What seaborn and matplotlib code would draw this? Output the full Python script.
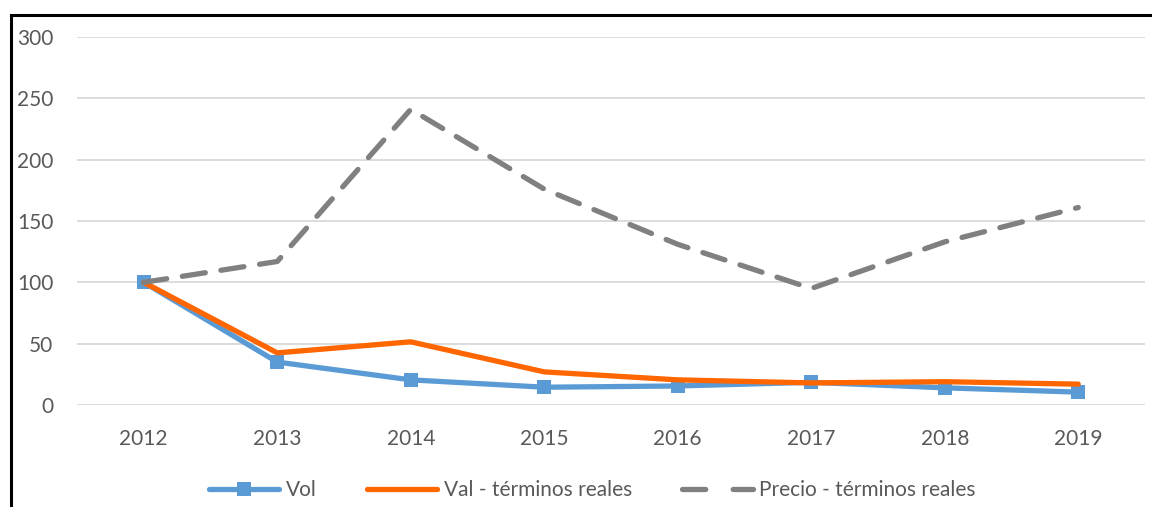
import pandas as pd
import seaborn as sns
import matplotlib.pyplot as plt
from matplotlib.lines import Line2D
from matplotlib.patches import Rectangle

# values
years = ["2012", "2013", "2014", "2015", "2016", "2017", "2018", "2019"]
vol = [100, 35, 20.5, 14.5, 15.5, 18.5, 14, 10.5]
val_reales = [100, 42.5, 51.5, 27, 20.5, 18, 19, 17]
precio_reales = [100, 117, 241, 176, 131, 95, 133, 161]

labels = ["Vol", "Val - términos reales", "Precio - términos reales"]
colors = ["#5B9BD5", "#FF6600", "#808080"]

sns.set_theme(style="white")
plt.rcParams["font.family"] = ["Lato", "DejaVu Sans"]

fig = plt.figure(figsize=(11.52, 5.07), dpi=100)
ax = fig.add_axes([77 / 1152, 1 - 405 / 507, 1068 / 1152, 368 / 507])

df = pd.DataFrame({"year": years, "vol": vol, "val": val_reales, "precio": precio_reales})
df["pos"] = range(len(years))

sns.lineplot(data=df, x="pos", y="vol", ax=ax, color=colors[0], lw=3.8,
             marker="s", markersize=10, markeredgewidth=0, solid_capstyle="round", zorder=3)
sns.lineplot(data=df, x="pos", y="val", ax=ax, color=colors[1], lw=3.8,
             solid_capstyle="round", solid_joinstyle="round", zorder=4)
sns.lineplot(data=df, x="pos", y="precio", ax=ax, color=colors[2], lw=3.8,
             dashes=(4.4, 3.0), dash_capstyle="round", zorder=5)

ax.set_xlim(-0.5, len(years) - 0.5)
ax.set_ylim(0, 300)
ax.set_yticks(range(0, 301, 50))
ax.set_xticks(range(len(years)))
ax.set_xticklabels(years)
ax.set_xlabel("")
ax.set_ylabel("")
ax.grid(axis="y", color="#D9D9D9", lw=1.3)
ax.grid(axis="x", visible=False)
for s in ax.spines.values():
    s.set_visible(False)
ax.tick_params(axis="both", colors="#595959", labelsize=15, length=0)
ax.tick_params(axis="y", pad=17)
ax.tick_params(axis="x", pad=17)

handles = [
    Line2D([], [], color=colors[0], lw=3.8, marker="s", markersize=10, markeredgewidth=0,
           solid_capstyle="round"),
    Line2D([], [], color=colors[1], lw=3.8, solid_capstyle="round"),
    Line2D([], [], color=colors[2], lw=3.8, dashes=(4.4, 5.2), dash_capstyle="round"),
]
fig.legend(handles, labels, loc="center", bbox_to_anchor=(592 / 1152, 1 - 490 / 507), ncol=3,
           frameon=False, fontsize=15, handlelength=3.4, columnspacing=2.4,
           handletextpad=0.3, labelcolor="#595959")

# outer frame (only top and left edges visible in the reference)
fig.patches.append(Rectangle((11 / 1152, -0.1), 1.2, 1 - 15 / 507 + 0.1,
                             transform=fig.transFigure, fill=False, edgecolor="black",
                             lw=2.2, zorder=10))

fig.savefig("out.png", dpi=100)
